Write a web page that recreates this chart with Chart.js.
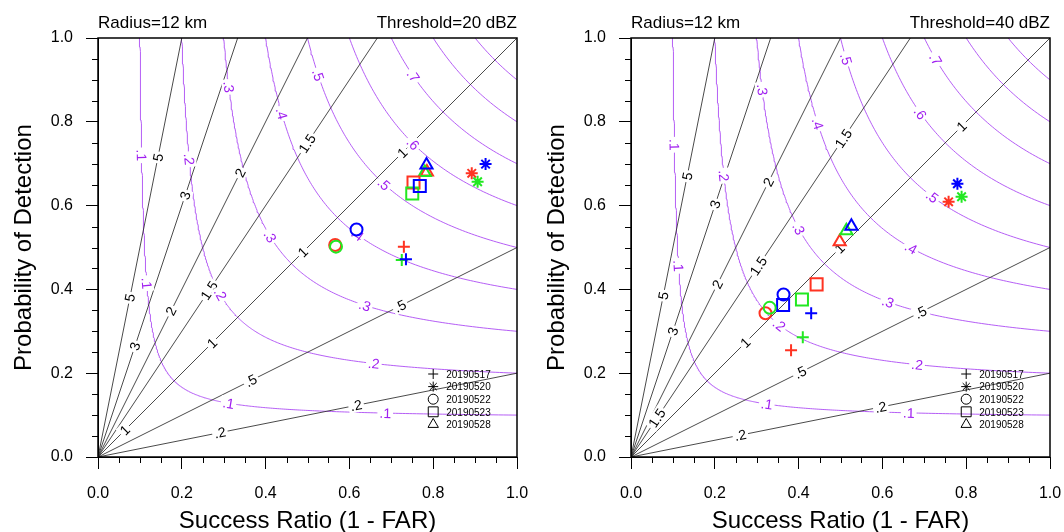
<!DOCTYPE html>
<html>
<head>
<meta charset="utf-8">
<script src="https://cdn.jsdelivr.net/npm/chart.js@4.4.0/dist/chart.umd.min.js"></script>
<style>
  body { margin: 0; background: #fff; }
  #wrap { position: relative; width: 1064px; height: 532px; overflow: hidden; }
  canvas { position: absolute; top: 0; }
</style>
</head>
<body>
<div id="wrap">
  <canvas id="left" width="532" height="532" style="left:0"></canvas>
  <canvas id="right" width="532" height="532" style="left:533px"></canvas>
</div>

<script>
  // ---- data ----
  var dates = ['20190517', '20190520', '20190522', '20190523', '20190528'];
  var pointStyles = ['cross', 'star', 'circle', 'rect', 'triangle'];
  var runColors = ['#ff3322', '#22e822', '#0000ff'];   // red, green, blue runs

  // threshold 20 dBZ (success ratio / POD per date)
  var sr20Red    = [0.730, 0.892, 0.566, 0.753, 0.785];
  var pod20Red   = [0.502, 0.677, 0.506, 0.655, 0.680];
  var sr20Green  = [0.725, 0.906, 0.568, 0.750, 0.780];
  var pod20Green = [0.470, 0.657, 0.502, 0.629, 0.679];
  var sr20Blue   = [0.735, 0.925, 0.617, 0.768, 0.784];
  var pod20Blue  = [0.472, 0.699, 0.543, 0.647, 0.697];

  // threshold 40 dBZ
  var sr40Red    = [0.382, 0.758, 0.321, 0.443, 0.498];
  var pod40Red   = [0.255, 0.609, 0.343, 0.412, 0.514];
  var sr40Green  = [0.410, 0.789, 0.331, 0.408, 0.514];
  var pod40Green = [0.286, 0.621, 0.356, 0.376, 0.540];
  var sr40Blue   = [0.430, 0.779, 0.364, 0.363, 0.526];
  var pod40Blue  = [0.343, 0.652, 0.388, 0.363, 0.551];

  // reference lines of the performance diagram
  var biasLevels = [0.2, 0.5, 1, 1.5, 2, 3, 5];
  var csiLevels = [0.1, 0.2, 0.3, 0.4, 0.5, 0.6, 0.7, 0.8, 0.9];
  var axisTicks = [0, 0.2, 0.4, 0.6, 0.8, 1.0];

  // contour label spots: [bias, success ratio]
  var biasLabels20 = [[5, 0.143], [5, 0.076], [3, 0.208], [3, 0.088], [2, 0.339], [2, 0.174],
    [1.5, 0.499], [1.5, 0.265], [1, 0.726], [1, 0.489], [1, 0.272], [1, 0.064],
    [0.5, 0.365], [0.5, 0.721], [0.2, 0.291], [0.2, 0.616]];
  var biasLabels40 = [[5, 0.134], [5, 0.077], [3, 0.201], [3, 0.100], [2, 0.328], [2, 0.206],
    [1.5, 0.507], [1.5, 0.304], [1.5, 0.062], [1, 0.789], [1, 0.498], [1, 0.273],
    [0.5, 0.691], [0.5, 0.404], [0.2, 0.596], [0.2, 0.261]];
  // [csi, approx success ratio, approx POD]
  var csiLabels20 = [[0.1, 0.100, 0.692], [0.1, 0.112, 0.399], [0.1, 0.301, 0.124], [0.1, 0.654, 0.100],
    [0.2, 0.212, 0.692], [0.2, 0.291, 0.387], [0.2, 0.649, 0.220],
    [0.3, 0.308, 0.871], [0.3, 0.408, 0.523], [0.3, 0.630, 0.358],
    [0.4, 0.434, 0.811], [0.4, 0.613, 0.525],
    [0.5, 0.523, 0.907], [0.5, 0.680, 0.649],
    [0.6, 0.749, 0.745], [0.7, 0.752, 0.909]];
  var csiLabels40 = [[0.1, 0.097, 0.698], [0.1, 0.109, 0.438], [0.1, 0.313, 0.122], [0.1, 0.648, 0.103],
    [0.2, 0.220, 0.666], [0.2, 0.349, 0.311], [0.2, 0.672, 0.217],
    [0.3, 0.309, 0.865], [0.3, 0.396, 0.539], [0.3, 0.608, 0.367],
    [0.4, 0.440, 0.785], [0.4, 0.663, 0.495],
    [0.5, 0.508, 0.940], [0.5, 0.715, 0.618],
    [0.6, 0.687, 0.816], [0.7, 0.723, 0.944]];

  var FONT = '"Liberation Sans", Arial, Helvetica, sans-serif';
  var PURPLE = '#a020f0';

  function levelText(v) {
    return String(v).replace(/^0\./, '.');
  }

  // csi curve traced along rays POD = k * SR from the origin
  function csiCurve(c) {
    var pts = [];
    for (var i = 0; i <= 500; i++) {
      var k = Math.exp(Math.log(0.04) + i * (Math.log(25) - Math.log(0.04)) / 500);
      var sr = (1 + 1 / k) / (1 / c + 1);
      pts.push({ x: sr, y: k * sr });
    }
    return pts;
  }

  function putLabel(ctx, text, x, y, ang, color) {
    ctx.save();
    ctx.translate(x, y);
    ctx.rotate(ang);
    var w = ctx.measureText(text).width;
    ctx.fillStyle = '#fff';
    ctx.fillRect(-w / 2 - 2, -7, w + 4, 14);
    ctx.fillStyle = color;
    ctx.fillText(text, 0, 1);
    ctx.restore();
  }

  function makePanel(canvasId, threshold, series, biasLabels, csiLabels) {
    var datasets = [];
    dates.forEach(function (d, i) {
      datasets.push({
        label: d,
        data: series.map(function (s) { return { x: s.sr[i], y: s.pod[i] }; }),
        pointStyle: pointStyles[i],
        pointRadius: [6, 6, 6, 8.5, 7][i],
        pointBorderColor: series.map(function (s) { return s.color; }),
        pointBackgroundColor: 'rgba(0,0,0,0)',
        pointBorderWidth: 2,
        showLine: false
      });
    });
    var firstLine = datasets.length;
    biasLevels.forEach(function (b) {
      datasets.push({
        data: [{ x: 0, y: 0 }, { x: Math.min(1, 1 / b), y: Math.min(1, b) }],
        borderColor: '#2a2a2a', borderWidth: 0.85, pointRadius: 0, showLine: true
      });
    });
    csiLevels.forEach(function (c) {
      datasets.push({
        data: csiCurve(c),
        borderColor: '#ad4cf4', borderWidth: 0.9, pointRadius: 0, showLine: true
      });
    });

    var decorations = {
      id: 'decorations',
      afterDatasetDraw: function (chart, args) {
        if (args.index !== firstLine) return;
        var ctx = chart.ctx, xs = chart.scales.x, ys = chart.scales.y;
        var ppx = xs.getPixelForValue(1) - xs.getPixelForValue(0);
        var ppy = ys.getPixelForValue(0) - ys.getPixelForValue(1);
        ctx.save();
        ctx.font = '14px ' + FONT;
        ctx.textAlign = 'center';
        ctx.textBaseline = 'middle';
        biasLabels.forEach(function (l) {
          var b = l[0], sr = l[1];
          putLabel(ctx, levelText(b), xs.getPixelForValue(sr), ys.getPixelForValue(b * sr),
            -Math.atan2(b * ppy, ppx), '#000');
        });
        csiLabels.forEach(function (l) {
          var c = l[0], k = l[2] / l[1];
          var sr = (1 + 1 / k) / (1 / c + 1), pod = k * sr;
          var ang = Math.atan2(ppy / (sr * sr), ppx / (pod * pod));
          putLabel(ctx, levelText(c), xs.getPixelForValue(sr), ys.getPixelForValue(pod), ang, PURPLE);
        });
        ctx.restore();
      },
      afterDraw: function (chart) {
        var ctx = chart.ctx, a = chart.chartArea, xs = chart.scales.x, ys = chart.scales.y;
        ctx.save();
        // frame
        ctx.strokeStyle = '#000';
        ctx.lineWidth = 1.5;
        ctx.strokeRect(a.left, a.top, a.right - a.left, a.bottom - a.top);
        // minor ticks
        ctx.lineWidth = 1;
        ctx.beginPath();
        for (var i = 1; i < 20; i++) {
          if (i % 4 === 0) continue;
          var v = i * 0.05;
          var px = Math.round(xs.getPixelForValue(v)) + 0.5;
          var py = Math.round(ys.getPixelForValue(v)) + 0.5;
          ctx.moveTo(px, a.bottom); ctx.lineTo(px, a.bottom + 6);
          ctx.moveTo(a.left, py); ctx.lineTo(a.left - 6, py);
        }
        ctx.stroke();
        // header
        ctx.fillStyle = '#000';
        ctx.font = '17px ' + FONT;
        ctx.textBaseline = 'alphabetic';
        ctx.textAlign = 'left';
        ctx.fillText('Radius=12 km', a.left, 28);
        ctx.textAlign = 'right';
        ctx.fillText('Threshold=' + threshold + ' dBZ', a.right, 28);
        // axis titles
        ctx.font = '24px ' + FONT;
        ctx.textAlign = 'center';
        ctx.textBaseline = 'middle';
        ctx.fillText('Success Ratio (1 - FAR)', (a.left + a.right) / 2, 521);
        ctx.save();
        ctx.translate(24, (a.top + a.bottom) / 2);
        ctx.rotate(-Math.PI / 2);
        ctx.fillText('Probability of Detection', 0, 0);
        ctx.restore();
        // legend
        var lx = a.left + 0.8 * (a.right - a.left);
        var ly = a.bottom - 83;
        ctx.font = '10px ' + FONT;
        ctx.textAlign = 'left';
        dates.forEach(function (d, i) {
          var y = ly + i * 12.6;
          ctx.strokeStyle = '#000';
          ctx.fillStyle = 'rgba(0,0,0,0)';
          Chart.helpers.drawPoint(ctx, {
            pointStyle: pointStyles[i], radius: [5, 5, 5, 7, 6][i], rotation: 0, borderWidth: 1.4
          }, lx, y);
          ctx.fillStyle = '#000';
          ctx.fillText(d, lx + 13, y + 1);
        });
        ctx.restore();
      }
    };

    var tickFont = { family: FONT, size: 16 };
    return new Chart(document.getElementById(canvasId).getContext('2d'), {
      type: 'scatter',
      data: { datasets: datasets },
      options: {
        responsive: false,
        animation: false,
        layout: { padding: { top: 38, right: 15, left: 0, bottom: 0 } },
        plugins: { legend: { display: false }, tooltip: { enabled: false } },
        scales: {
          x: {
            type: 'linear', min: 0, max: 1,
            afterBuildTicks: function (s) { s.ticks = axisTicks.map(function (v) { return { value: v }; }); },
            ticks: { font: tickFont, color: '#000', padding: 15, maxRotation: 0, autoSkip: false,
              callback: function (v) { return v.toFixed(1); } },
            grid: { drawOnChartArea: false, drawTicks: true, tickLength: 12, color: '#000' },
            border: { display: true, color: '#000' },
            afterFit: function (s) { s.height = 75; s.paddingLeft = 0; s.paddingRight = 0; }
          },
          y: {
            type: 'linear', min: 0, max: 1,
            afterBuildTicks: function (s) { s.ticks = axisTicks.map(function (v) { return { value: v }; }); },
            ticks: { font: tickFont, color: '#000', padding: 13, autoSkip: false,
              callback: function (v) { return v.toFixed(1); } },
            grid: { drawOnChartArea: false, drawTicks: true, tickLength: 12, color: '#000' },
            border: { display: true, color: '#000' },
            afterFit: function (s) { s.width = 98; s.paddingTop = 0; s.paddingBottom = 0; }
          }
        }
      },
      plugins: [decorations]
    });
  }

  makePanel('left', 20, [
    { color: runColors[0], sr: sr20Red, pod: pod20Red },
    { color: runColors[1], sr: sr20Green, pod: pod20Green },
    { color: runColors[2], sr: sr20Blue, pod: pod20Blue }
  ], biasLabels20, csiLabels20);

  makePanel('right', 40, [
    { color: runColors[0], sr: sr40Red, pod: pod40Red },
    { color: runColors[1], sr: sr40Green, pod: pod40Green },
    { color: runColors[2], sr: sr40Blue, pod: pod40Blue }
  ], biasLabels40, csiLabels40);
</script>
</body>
</html>
